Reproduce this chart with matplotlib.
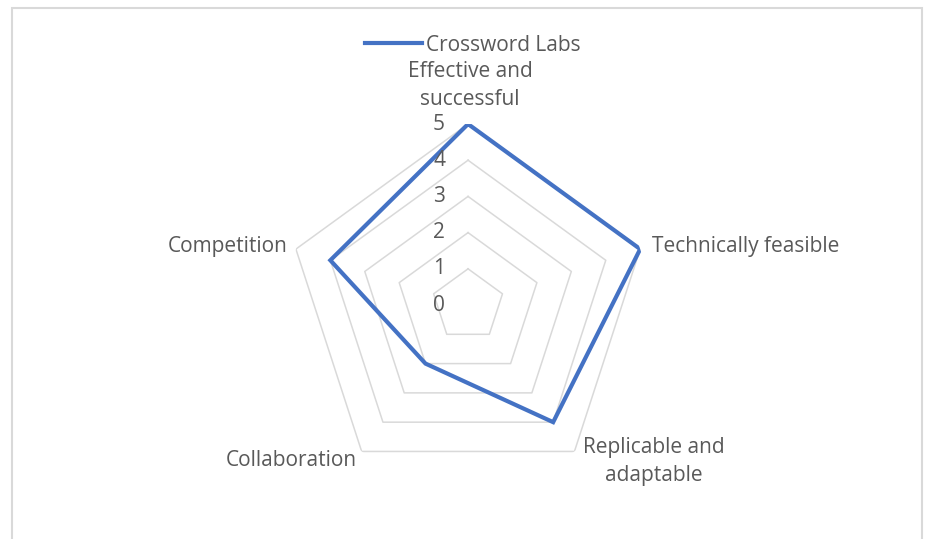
import numpy as np
import matplotlib.pyplot as plt
from matplotlib.patches import Rectangle

# chart data
categories = ["Effective and\nsuccessful", "Technically feasible", "Replicable and\nadaptable",
              "Collaboration", "Competition"]
values = [5, 5, 4, 2, 4]
series_name = "Crossword Labs"
levels = [1, 2, 3, 4, 5]
tick_labels = ["0", "1", "2", "3", "4", "5"]

LINE = "#4472C4"
GRID = "#D9D9D9"
TEXT = "#595959"
FS = 15
plt.rcParams["font.family"] = ["Open Sans", "DejaVu Sans"]

n = len(categories)
theta = np.linspace(0, 2 * np.pi, n, endpoint=False)
theta_closed = np.append(theta, theta[0])

fig = plt.figure(figsize=(9.25, 5.39), dpi=100)
ax = fig.add_axes([0.3103, 0.0983, 0.3914, 0.6716], projection="polar")
ax.set_theta_offset(np.pi / 2)
ax.set_theta_direction(-1)
ax.set_ylim(0, 5)
ax.grid(False)
ax.spines["polar"].set_visible(False)
ax.set_xticks([])
ax.set_yticks([])
ax.patch.set_alpha(0)

# pentagon gridlines
for lv in levels:
    ax.plot(theta_closed, [lv] * (n + 1), color=GRID, lw=1.1, zorder=1)

# data series
ax.plot(theta_closed, values + values[:1], color=LINE, lw=3.0, solid_joinstyle="miter",
        label=series_name, zorder=3)

# radial tick labels
for i, t in enumerate(tick_labels):
    ax.annotate(t, xy=(0, i), xytext=(-23, 0), textcoords="offset pixels",
                ha="right", va="center", fontsize=FS, color=TEXT, annotation_clip=False)

# category labels
label_pos = [((2, 14), "center", "bottom"), ((12, 3), "left", "center"),
             ((9, -10), "left", "center"), ((-5, -9), "right", "center"),
             ((-8, 3), "right", "center")]
for t, lab, (off, ha, va) in zip(theta, categories, label_pos):
    ax.annotate(lab, xy=(t, 5), xytext=off, textcoords="offset pixels", ha=ha, va=va,
                multialignment="center", linespacing=1.45, fontsize=FS, color=TEXT,
                annotation_clip=False)

fig.legend(loc="center", bbox_to_anchor=(0.511, 0.9165), frameon=False, fontsize=FS,
           handlelength=2.75, handletextpad=0.15, labelcolor=TEXT)

# chart area border
fig.patches.append(Rectangle((12 / 925, -0.1), 910 / 925, 1.1 - 8 / 539, transform=fig.transFigure,
                             fill=False, edgecolor=GRID, lw=1.5))

fig.savefig("out.png", dpi=100)
